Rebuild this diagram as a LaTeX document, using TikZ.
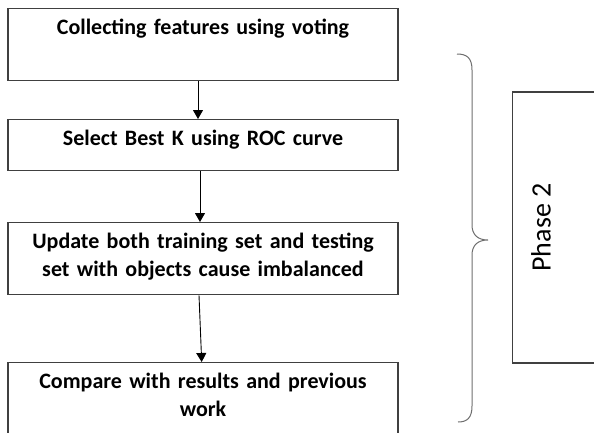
\documentclass[tikz,border=0pt]{standalone}
\usepackage{fontspec}
\setmainfont{Carlito}
\usepackage{tikz}
\usetikzlibrary{positioning, arrows.meta, calc}
\definecolor{framegray}{RGB}{64,64,64}
\definecolor{bracegray}{RGB}{110,110,110}

\begin{document}
\begin{tikzpicture}[x=1pt, y=1pt,
	stepbox/.style={draw=framegray, line width=1.3pt, anchor=north, text width=370pt, align=center, inner xsep=10pt, inner ysep=0pt, text height=26pt, font=\bfseries\fontsize{22}{28}\selectfont},
	flow/.style={draw=black, line width=0.9pt, -{Triangle[width=10pt,length=9pt]}}]
		\pgfmathsetmacro{\boxx}{203}
		\useasboundingbox (0,0) rectangle (594,-432);
		\clip (0,0) rectangle (594,-432);
		\node[stepbox, text depth=46pt] (vote) at (\boxx,-8) {Collecting features using voting};
		\node[stepbox, text depth=25pt] (roc) at (\boxx,-119) {Select Best K using ROC curve};
		\node[stepbox, text depth=46pt] (update) at (\boxx,-222) {Update both training set and testing\\set with objects cause imbalanced};
		\node[stepbox, text depth=46pt] (compare) at (\boxx,-362) {Compare with results and previous\\work};
		
		\draw[flow] ([xshift=-5pt]vote.south) -- ([xshift=-5pt]roc.north);
		\draw[flow] ([xshift=-3pt]roc.south) -- ([xshift=-3pt]update.north);
		\draw[flow] ([xshift=-4pt]update.south) -- ([xshift=-1.3pt]compare.north);
		
		\draw[bracegray, line width=1pt] (457,-54) .. controls (467,-54) and (472,-58) .. (472,-70) -- (472,-225) .. controls (472,-235) and (478,-240) .. (488,-240) .. controls (478,-240) and (472,-245) .. (472,-255) -- (472,-406) .. controls (472,-418) and (467,-422) .. (458,-422);
		
		\node[draw=framegray, line width=1.3pt, rotate=90, anchor=north, minimum width=271pt, inner sep=0pt, text height=38pt, text depth=70pt, font=\fontsize{28}{34}\selectfont] (phase) at (512,-227.5) {Phase 2};
\end{tikzpicture}
\end{document}
